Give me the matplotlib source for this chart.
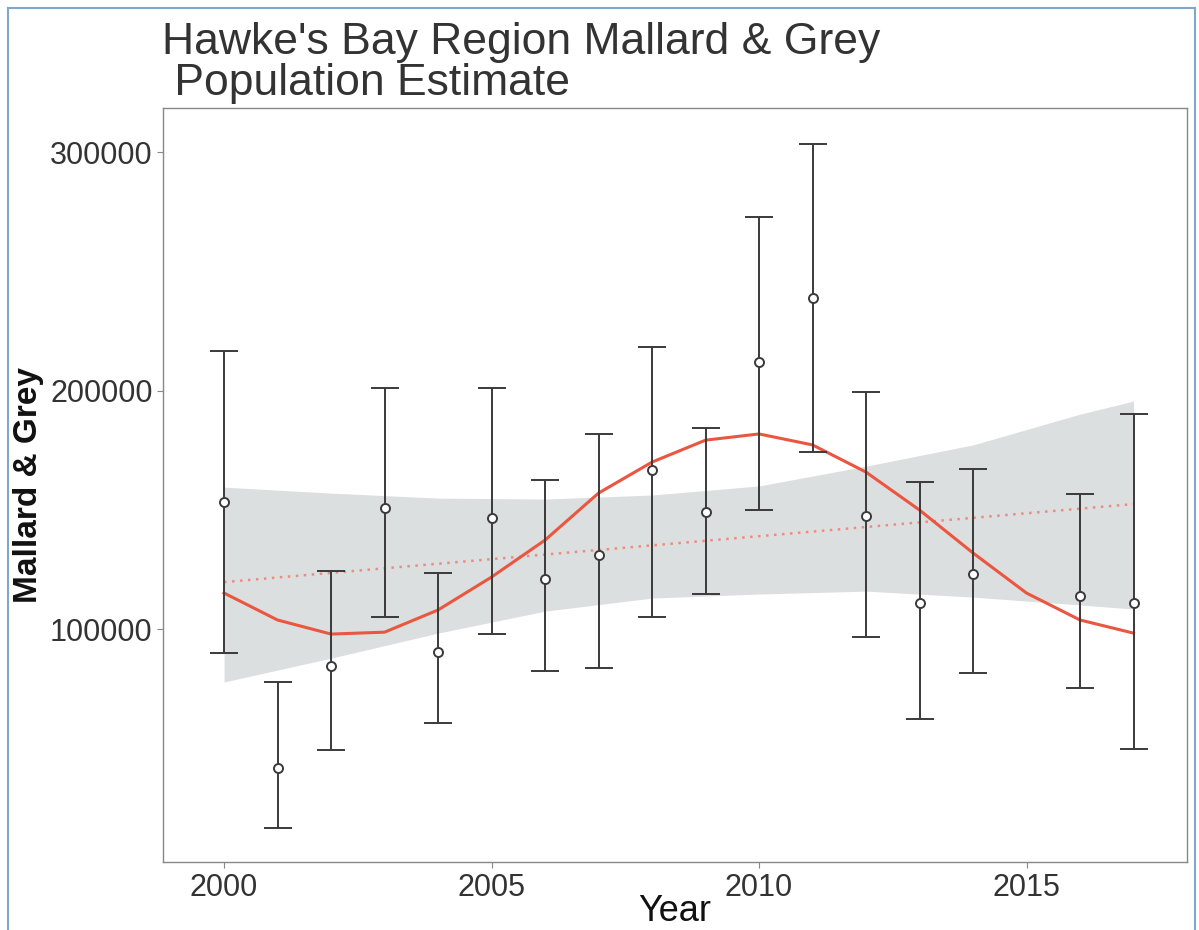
import matplotlib.pyplot as plt
from matplotlib.lines import Line2D

plt.rcParams['font.family'] = ['Liberation Sans', 'DejaVu Sans']

# survey estimates with upper / lower limits
years = [2000, 2001, 2002, 2003, 2004, 2005, 2006, 2007, 2008,
         2009, 2010, 2011, 2012, 2013, 2014, 2016, 2017]
estimate = [153300, 41700, 84500, 150700, 90400, 146500, 120900, 131000, 166700,
            149100, 212000, 238800, 147400, 110900, 123100, 113800, 110900]
upper = [216600, 77800, 124300, 201000, 123500, 201000, 162500, 181800, 218200,
         184300, 272700, 303400, 199400, 161600, 167100, 156600, 190100]
lower = [89900, 16600, 49300, 105000, 60600, 97900, 82400, 83600, 105000,
         114700, 149900, 174200, 96600, 62300, 81600, 75300, 49700]

# smooth trend (red solid)
smooth_years = list(range(2000, 2018))
smooth_vals = [115100, 103800, 97900, 98700, 108000, 121800, 137300, 157000, 170000,
               179200, 181800, 177200, 165800, 149900, 131900, 115100, 103800, 98300]

# linear trend (red dotted) and its confidence band
lin_years = [2000, 2017]
lin_vals = [119700, 152400]
band_years = [2000, 2002, 2004, 2006, 2008, 2010, 2012, 2014, 2016, 2017]
band_hi = [159500, 157000, 154900, 154500, 156200, 160000, 168300, 177200, 190100, 195600]
band_lo = [77800, 87800, 98300, 107500, 113000, 114700, 115900, 113400, 110100, 108400]

fig = plt.figure(figsize=(11.99, 9.3), dpi=100)
ax = fig.add_axes([0.136, 0.073, 0.854, 0.811])

ax.fill_between(band_years, band_lo, band_hi, color='#dcdfdf', lw=0, zorder=1)
ax.plot(lin_years, lin_vals, color='#f08a7e', lw=1.8, ls=(0, (1, 2.2)), zorder=2)
ax.plot(smooth_years, smooth_vals, color='#ea5640', lw=2.2, zorder=3,
        solid_joinstyle='round')

yerr = [[e - l for e, l in zip(estimate, lower)], [u - e for e, u in zip(estimate, upper)]]
ax.errorbar(years, estimate, yerr=yerr, fmt='o', color='#3a3a3a', ecolor='#3a3a3a',
            elinewidth=1.4, capsize=10, capthick=1.4, markersize=6.5,
            markerfacecolor='white', markeredgecolor='#3a3a3a', markeredgewidth=1.4, zorder=4)

ax.set_xlim(1998.86, 2018.0)
ax.set_ylim(2300, 318500)
ax.set_xticks([2000, 2005, 2010, 2015])
ax.set_yticks([100000, 200000, 300000])
ax.tick_params(labelsize=22, colors='#888888', labelcolor='#333333', length=4, width=0.8)
for spine in ax.spines.values():
    spine.set_color('#888888')
    spine.set_linewidth(1.0)

ax.set_xlabel('Year', fontsize=26, color='#111111', labelpad=-6)
ax.set_ylabel('Mallard & Grey', fontsize=24, fontweight='bold', color='#111111', labelpad=4)

fig.text(0.135, 0.976, "Hawke's Bay Region Mallard & Grey\n Population Estimate",
         fontsize=32, color='#333333', ha='left', va='top', linespacing=1.0)

# scanned page frame
for xs, ys in [([0.007, 0.007], [0.0, 0.991]), ([0.007, 0.997], [0.991, 0.991]),
               ([0.997, 0.997], [0.0, 0.991])]:
    fig.add_artist(Line2D(xs, ys, color='#7fa8cc', lw=1.5, transform=fig.transFigure))

fig.savefig('out.png', dpi=100)
